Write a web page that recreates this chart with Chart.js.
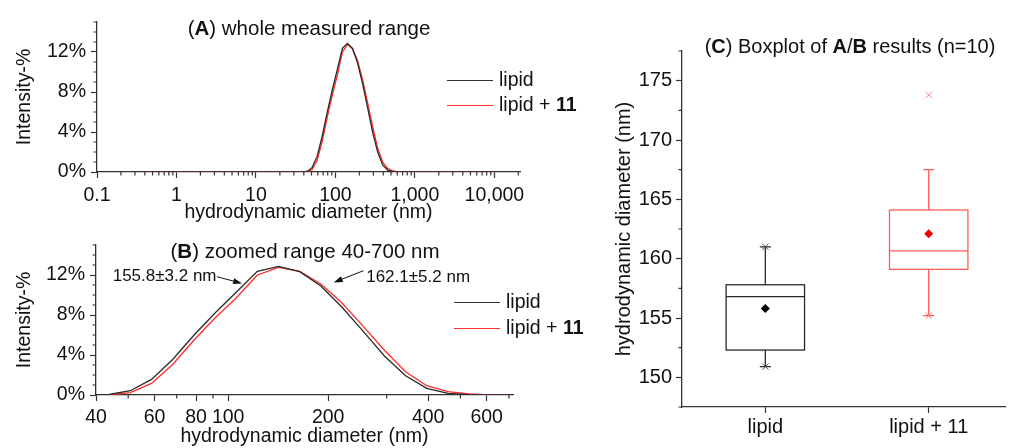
<!DOCTYPE html>
<html lang="en">
<head>
<meta charset="UTF-8">
<title>DLS size distribution - lipid vs lipid + 11</title>
<script src="https://cdn.jsdelivr.net/npm/chart.js@4.4.0/dist/chart.umd.min.js"></script>
<style>
  html, body { margin: 0; padding: 0; background: #fff; overflow: hidden; }
  #wrap { position: relative; width: 1011px; height: 448px; font-family: "Liberation Sans", Arial, sans-serif; color: #111; }
  canvas { position: absolute; left: 0; top: 0; }
  .txt { position: absolute; white-space: nowrap; line-height: 1; }
  .center { transform: translate(-50%, -50%); }
  .left { transform: translate(0, -50%); }
  .lg { position: absolute; width: 46px; height: 0; border-top: 1.4px solid; }
</style>
</head>
<body>
<div id="wrap">
  <canvas id="chartA" width="1011" height="448"></canvas>
  <canvas id="chartB" width="1011" height="448"></canvas>
  <canvas id="chartC" width="1011" height="448"></canvas>

  <div class="txt center" style="left:309px; top:28px; font-size:20.5px;">(<b>A</b>) whole measured range</div>
  <div class="lg" style="left:447px; top:80px; border-color:#333;"></div>
  <div class="txt left" style="left:499px; top:80px; font-size:19.5px;">lipid</div>
  <div class="lg" style="left:447px; top:105px; border-color:#ff3030;"></div>
  <div class="txt left" style="left:499px; top:105px; font-size:19.5px;">lipid + <b>11</b></div>

  <div class="txt center" style="left:305px; top:251px; font-size:20.5px;">(<b>B</b>) zoomed range 40-700 nm</div>
  <div class="lg" style="left:454px; top:302px; border-color:#333;"></div>
  <div class="txt left" style="left:506px; top:302px; font-size:19.5px;">lipid</div>
  <div class="lg" style="left:454px; top:328px; border-color:#ff3030;"></div>
  <div class="txt left" style="left:506px; top:328px; font-size:19.5px;">lipid + <b>11</b></div>

  <div class="txt center" style="left:850px; top:46px; font-size:20px;">(<b>C</b>) Boxplot of <b>A</b>/<b>B</b> results (n=10)</div>
</div>

<script>
  // DLS size bins (nm) and intensity distributions (%)
  const sizes = [
    0.4, 0.4632, 0.5365, 0.6213, 0.7195, 0.8332, 0.9649, 1.117, 1.294, 1.499,
    1.736, 2.01, 2.328, 2.696, 3.122, 3.615, 4.187, 4.849, 5.615, 6.503,
    7.531, 8.721, 10.1, 11.7, 13.54, 15.69, 18.17, 21.04, 24.36, 28.21,
    32.67, 37.84, 43.82, 50.75, 58.77, 68.06, 78.82, 91.28, 105.7, 122.4,
    141.8, 164.2, 190.1, 220.2, 255, 295.3, 342, 396.1, 458.7, 531.2,
    615.1, 712.4, 825, 955.4, 1106, 1281, 1484, 1718, 1990, 2305,
    2669, 3091, 3580, 4145, 4801, 5560, 6439, 7456, 8635, 10000
  ];
  const lipid = [
    0, 0, 0, 0, 0, 0, 0, 0, 0, 0,
    0, 0, 0, 0, 0, 0, 0, 0, 0, 0,
    0, 0, 0, 0, 0, 0, 0, 0, 0, 0,
    0, 0, 0.05, 0.43, 1.56, 3.55, 5.97, 8.2, 10.27, 12.36,
    12.86, 12.33, 10.9, 8.78, 6.36, 3.9, 1.92, 0.66, 0.17, 0.03,
    0, 0, 0, 0, 0, 0, 0, 0, 0, 0,
    0, 0, 0, 0, 0, 0, 0, 0, 0, 0
  ];
  const lipid11 = [
    0, 0, 0, 0, 0, 0, 0, 0, 0, 0,
    0, 0, 0, 0, 0, 0, 0, 0, 0, 0,
    0, 0, 0, 0, 0, 0, 0, 0, 0, 0,
    0, 0, 0.02, 0.23, 1.16, 3.05, 5.47, 7.7, 9.7, 12.0,
    12.76, 12.36, 11.1, 9.2, 6.86, 4.47, 2.32, 0.93, 0.33, 0.1,
    0.02, 0, 0, 0, 0, 0, 0, 0, 0, 0,
    0, 0, 0, 0, 0, 0, 0, 0, 0, 0
  ];

  // tick labels
  const intensityTicks = [0, 4, 8, 12];
  const aTickValues = [0.1, 1, 10, 100, 1000, 10000];
  const aTickLabels = ['0.1', '1', '10', '100', '1,000', '10,000'];
  const bTickValues = [40, 60, 80, 100, 200, 400, 600];
  const bMinorValues = [50, 70, 90, 300, 500, 700];
  const cTickValues = [150, 155, 160, 165, 170, 175];

  // boxplot statistics (nm)
  const groups = ['lipid', 'lipid + 11'];
  const boxQ1 = [152.3, 159.1];
  const boxMedian = [156.8, 160.65];
  const boxQ3 = [157.8, 164.1];
  const whiskerLow = [150.9, 155.2];
  const whiskerHigh = [161.0, 167.5];
  const boxMean = [155.8, 162.1];
  const dataMin = [150.9, 155.2];
  const dataMax = [161.0, 173.8];

  // annotations on panel B (data coordinates)
  const annotations = [
    { text: '155.8\u00b13.2 nm', at: [44.9, 11.83], from: [92.5, 11.83], to: [110.1, 11.16] },
    { text: '162.1\u00b15.2 nm', at: [260.3, 11.76], from: [255.5, 12.43], to: [207.8, 11.26] }
  ];

  const FONT = '"Liberation Sans", Arial, sans-serif';
  Chart.defaults.font.family = FONT;
  Chart.defaults.color = '#111';
  Chart.defaults.animation = false;

  const AXIS = '#333';
  const BLACK = '#2a2a2a';
  const RED = '#ff2a2a';

  function decadeMinors(lo, hi) {
    const out = [];
    for (let d = lo; d < hi; d *= 10) {
      for (let k = 2; k <= 9; k++) out.push(d * k);
    }
    return out;
  }

  const minorTicks = {
    id: 'minorTicks',
    afterDraw(chart, args, opts) {
      const { ctx, chartArea: a, scales } = chart;
      ctx.save();
      ctx.strokeStyle = AXIS;
      ctx.lineWidth = 1.2;
      ctx.beginPath();
      (opts.x || []).forEach(v => {
        const px = scales.x.getPixelForValue(v);
        if (px < a.left - 0.5 || px > a.right + 0.5) return;
        ctx.moveTo(px, a.bottom);
        ctx.lineTo(px, a.bottom + opts.length);
      });
      (opts.y || []).forEach(v => {
        const py = scales.y.getPixelForValue(v);
        ctx.moveTo(a.left - opts.length, py);
        ctx.lineTo(a.left, py);
      });
      ctx.stroke();
      ctx.restore();
    }
  };

  const arrows = {
    id: 'arrows',
    afterDraw(chart, args, opts) {
      if (!opts.items) return;
      const { ctx, scales: { x, y } } = chart;
      ctx.save();
      ctx.fillStyle = '#111';
      ctx.strokeStyle = '#111';
      ctx.lineWidth = 1;
      ctx.font = '17px ' + FONT;
      ctx.textBaseline = 'middle';
      opts.items.forEach(an => {
        ctx.fillText(an.text, x.getPixelForValue(an.at[0]), y.getPixelForValue(an.at[1]));
        const x0 = x.getPixelForValue(an.from[0]), y0 = y.getPixelForValue(an.from[1]);
        const x1 = x.getPixelForValue(an.to[0]), y1 = y.getPixelForValue(an.to[1]);
        const ang = Math.atan2(y1 - y0, x1 - x0);
        ctx.beginPath();
        ctx.moveTo(x0, y0);
        ctx.lineTo(x1 - 6 * Math.cos(ang), y1 - 6 * Math.sin(ang));
        ctx.stroke();
        ctx.beginPath();
        ctx.moveTo(x1, y1);
        ctx.lineTo(x1 - 9 * Math.cos(ang) + 3 * Math.sin(ang), y1 - 9 * Math.sin(ang) - 3 * Math.cos(ang));
        ctx.lineTo(x1 - 9 * Math.cos(ang) - 3 * Math.sin(ang), y1 - 9 * Math.sin(ang) + 3 * Math.cos(ang));
        ctx.closePath();
        ctx.fill();
      });
      ctx.restore();
    }
  };

  function lineData(vals) {
    return sizes.map((s, i) => ({ x: s, y: vals[i] }));
  }

  function distChart(id, o) {
    return new Chart(document.getElementById(id), {
      type: 'line',
      data: {
        datasets: [
          { label: 'lipid', data: lineData(lipid), borderColor: BLACK, borderWidth: 1.3, pointRadius: 0, tension: 0 },
          { label: 'lipid + 11', data: lineData(lipid11), borderColor: RED, borderWidth: 1.3, pointRadius: 0, tension: 0 }
        ]
      },
      options: {
        responsive: false,
        layout: { padding: o.padding },
        plugins: {
          legend: { display: false },
          tooltip: { enabled: false },
          minorTicks: { x: o.minorX, y: [1, 2, 3, 5, 6, 7, 9, 10, 11, 13, 14, 15], length: 3.5 },
          arrows: { items: o.annotations }
        },
        scales: {
          x: {
            type: 'logarithmic',
            min: o.xMin,
            max: o.xMax,
            afterBuildTicks: s => { s.ticks = o.xTicks.map(v => ({ value: v })); },
            afterFit: s => { s.height = o.xHeight; },
            ticks: {
              autoSkip: false, maxRotation: 0, padding: o.xPad,
              font: { size: 19.5 }, color: '#111',
              callback: v => o.xLabels ? o.xLabels[o.xTicks.indexOf(v)] : String(v)
            },
            grid: { drawOnChartArea: false, tickLength: 6, tickColor: AXIS, tickWidth: 1.2 },
            border: { color: AXIS, width: 1.3 },
            title: { display: true, text: 'hydrodynamic diameter (nm)', font: { size: 19.5 }, color: '#111', padding: 0 }
          },
          y: {
            min: 0,
            max: 15,
            afterBuildTicks: s => { s.ticks = intensityTicks.map(v => ({ value: v })); },
            afterFit: s => { s.width = o.yWidth; },
            ticks: { padding: 5, font: { size: 19.5 }, color: '#111', callback: v => v + '%' },
            grid: { drawOnChartArea: false, tickLength: 6, tickColor: AXIS, tickWidth: 1.2 },
            border: { color: AXIS, width: 1.3 },
            title: { display: true, text: 'Intensity-%', font: { size: 19.5 }, color: '#111', padding: { top: 13, bottom: 0 } }
          }
        }
      },
      plugins: [minorTicks, arrows]
    });
  }

  // Panel A: whole measured range
  distChart('chartA', {
    padding: { left: 0, top: 22, right: 491, bottom: 224 },
    xMin: 0.1, xMax: 21000, xTicks: aTickValues, xLabels: aTickLabels,
    minorX: decadeMinors(0.1, 20000), xHeight: 52, xPad: 6, yWidth: 97
  });

  // Panel B: zoomed range 40-700 nm
  distChart('chartB', {
    padding: { left: 0, top: 245, right: 498, bottom: 0 },
    xMin: 40, xMax: 720, xTicks: bTickValues, xLabels: null,
    minorX: bMinorValues, xHeight: 53, xPad: 5, yWidth: 96,
    annotations: annotations
  });

  // Panel C: boxplot
  const boxHalf = 0.24;
  const capHalfPx = 5.5;
  const groupLine = ['#2a2a2a', '#ff5a5a'];
  const groupMean = ['#000000', '#ee0000'];
  const groupMark = ['#555555', '#ff7a7a'];

  const boxes = {
    id: 'boxes',
    beforeDatasetsDraw(chart) {
      const { ctx, scales: { x, y } } = chart;
      ctx.save();
      ctx.lineWidth = 1.3;
      groups.forEach((g, i) => {
        const cx = x.getPixelForValue(i);
        const hw = x.getPixelForValue(i + boxHalf) - cx;
        const top = y.getPixelForValue(boxQ3[i]);
        const bot = y.getPixelForValue(boxQ1[i]);
        const med = y.getPixelForValue(boxMedian[i]);
        const wHi = y.getPixelForValue(whiskerHigh[i]);
        const wLo = y.getPixelForValue(whiskerLow[i]);
        ctx.strokeStyle = groupLine[i];
        ctx.strokeRect(cx - hw, top, 2 * hw, bot - top);
        ctx.beginPath();
        ctx.moveTo(cx - hw, med); ctx.lineTo(cx + hw, med);
        ctx.moveTo(cx, top); ctx.lineTo(cx, wHi);
        ctx.moveTo(cx, bot); ctx.lineTo(cx, wLo);
        ctx.moveTo(cx - capHalfPx, wHi); ctx.lineTo(cx + capHalfPx, wHi);
        ctx.moveTo(cx - capHalfPx, wLo); ctx.lineTo(cx + capHalfPx, wLo);
        ctx.stroke();
      });
      ctx.restore();
    }
  };

  new Chart(document.getElementById('chartC'), {
    type: 'scatter',
    data: {
      datasets: [
        {
          label: 'min/max',
          data: groups.flatMap((g, i) => [{ x: i, y: dataMin[i] }, { x: i, y: dataMax[i] }]),
          pointStyle: 'crossRot', pointRadius: 4.5, borderWidth: 1,
          borderColor: groups.flatMap((g, i) => [groupMark[i], groupMark[i]])
        },
        {
          label: 'mean',
          data: groups.map((g, i) => ({ x: i, y: boxMean[i] })),
          pointStyle: 'rectRot', pointRadius: 4.5, borderWidth: 0,
          backgroundColor: groupMean, borderColor: groupMean
        }
      ]
    },
    options: {
      responsive: false,
      layout: { padding: { left: 600, top: 51, right: 1, bottom: 0 } },
      plugins: { legend: { display: false }, tooltip: { enabled: false },
        minorTicks: { y: [147.5, 152.5, 157.5, 162.5, 167.5, 172.5, 177.5], length: 3.5 } },
      scales: {
        x: {
          type: 'linear', min: -0.51, max: 1.47,
          afterBuildTicks: s => { s.ticks = groups.map((g, i) => ({ value: i })); },
          afterFit: s => { s.height = 41; },
          ticks: { autoSkip: false, maxRotation: 0, padding: 2, font: { size: 20 }, color: '#111', callback: v => groups[v] },
          grid: { drawOnChartArea: false, tickLength: 6, tickColor: AXIS, tickWidth: 1.2 },
          border: { color: AXIS, width: 1.3 }
        },
        y: {
          min: 147.5, max: 177.5,
          afterBuildTicks: s => { s.ticks = cTickValues.map(v => ({ value: v })); },
          afterFit: s => { s.width = 82; },
          ticks: { padding: 4, font: { size: 20 }, color: '#111' },
          grid: { drawOnChartArea: false, tickLength: 6, tickColor: AXIS, tickWidth: 1.2 },
          border: { color: AXIS, width: 1.3 },
          title: { display: true, text: 'hydrodynamic diameter (nm)', font: { size: 20 }, color: '#111', padding: { top: 12, bottom: 0 } }
        }
      }
    },
    plugins: [boxes, minorTicks]
  });
</script>
</body>
</html>
